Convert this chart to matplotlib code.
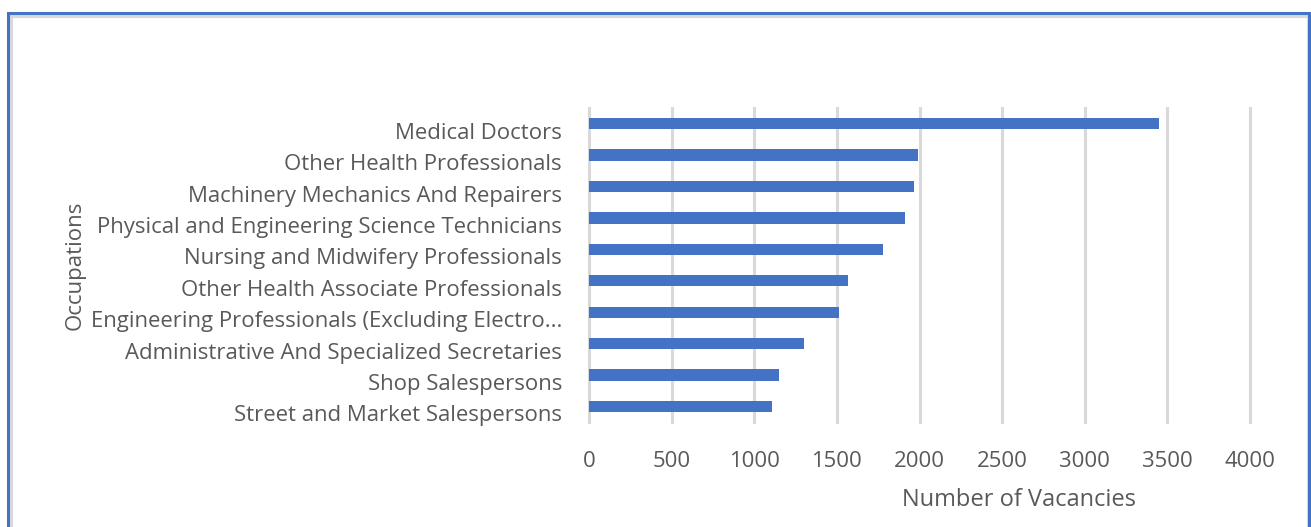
import matplotlib
matplotlib.use("Agg")
import matplotlib.pyplot as plt
import matplotlib.transforms as mtransforms
from matplotlib.patches import Rectangle

plt.rcParams["font.family"] = ["Open Sans", "DejaVu Sans"]

occupations = [
    "Medical Doctors",
    "Other Health Professionals",
    "Machinery Mechanics And Repairers",
    "Physical and Engineering Science Technicians",
    "Nursing and Midwifery Professionals",
    "Other Health Associate Professionals",
    "Engineering Professionals (Excluding Electro...",
    "Administrative And Specialized Secretaries",
    "Shop Salespersons",
    "Street and Market Salespersons",
]
vacancies = [3450, 1990, 1965, 1910, 1780, 1570, 1515, 1300, 1150, 1110]
x_ticks = [0, 500, 1000, 1500, 2000, 2500, 3000, 3500, 4000]

text_color = "#595959"
bar_color = "#4472C4"

fig = plt.figure(figsize=(13.11, 5.27), dpi=100)
ax = fig.add_axes([0.4493, 0.199, 0.5042, 0.596])

pos = list(range(len(occupations)))[::-1]
ax.barh(pos, vacancies, height=0.36, color=bar_color, zorder=3)

ax.set_xlim(0, 4000)
ax.set_ylim(-0.5, 9.5)
ax.set_xticks(x_ticks)
ax.set_yticks(pos)
ax.set_yticklabels(occupations)
ax.grid(axis="x", color="#D9D9D9", linewidth=2.2, zorder=0)
ax.tick_params(axis="both", length=0, labelsize=15.9, colors=text_color)
ax.tick_params(axis="y", pad=19.5)
ax.tick_params(axis="x", pad=21)
for s in ax.spines.values():
    s.set_visible(False)
for gl in ax.get_xgridlines():
    gl.set_clip_on(False)

# category labels sit a little below their bars in the reference
shift = mtransforms.ScaledTranslation(0, -7 / 100, fig.dpi_scale_trans)
for lbl in ax.get_yticklabels():
    lbl.set_transform(lbl.get_transform() + shift)

ax.set_xlabel("Number of Vacancies", fontsize=17, color=text_color)
ax.xaxis.set_label_coords(0.65, -0.21)
ax.set_ylabel("Occupations", fontsize=16, color=text_color)
ax.yaxis.set_label_coords(-0.761, 0.5)

# frame around the chart (blue outer line, grey shadow inside)
W, H = 1311, 527
fig.patches.append(Rectangle((10.5 / W, -0.05), (1297 / W), (H - 15.5) / H + 0.05,
                             transform=fig.transFigure, fill=False,
                             edgecolor="#D9D9D9", linewidth=2.2))
fig.patches.append(Rectangle((7.5 / W, -0.05), (1301 / W), (H - 13) / H + 0.05,
                             transform=fig.transFigure, fill=False,
                             edgecolor="#4472C4", linewidth=2.2))

fig.savefig("out.png", dpi=100)
